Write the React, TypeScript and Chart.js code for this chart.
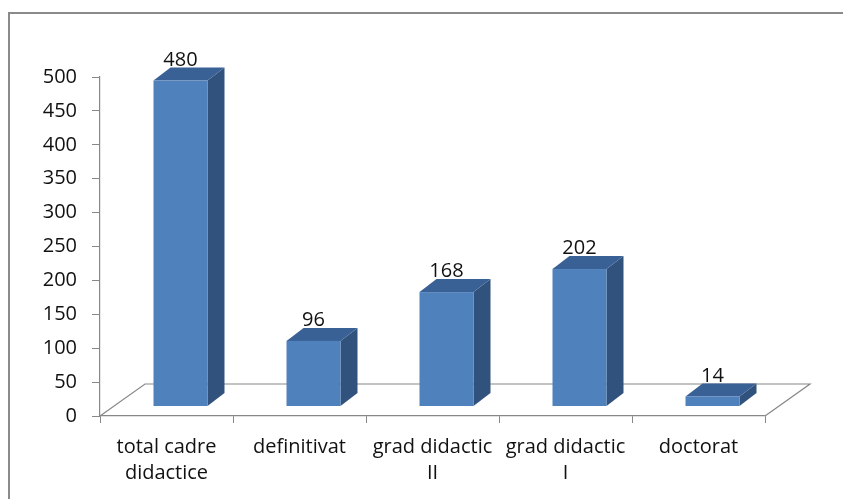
import React, { useEffect, useRef } from 'react';
import { Chart, registerables } from 'chart.js';

Chart.register(...registerables);

const categories: (string | string[])[] = [
  ['total cadre', 'didactice'],
  'definitivat',
  ['grad didactic', 'II'],
  ['grad didactic', 'I'],
  'doctorat',
];
const values: number[] = [480, 96, 168, 202, 14];
const yMin = 0;
const yMax = 500;
const yStep = 50;

const FONT = '"Open Sans", Lato, sans-serif';
const AXIS_GRAY = '#888888';
const FRONT = '#4F81BD';
const SIDE = '#30527D';
const TOP = '#3A6195';

// 3D projection constants (styling)
const FLOOR_DX = 45;
const FLOOR_DY = 32;
const BAR_SHIFT_X = 14;
const BAR_SHIFT_Y = 10;
const BAR_DX = 17;
const BAR_DY = 13;

const threeDPlugin = {
  id: 'threeD',
  beforeDraw(chart: any) {
    const ctx = chart.ctx;
    ctx.save();
    ctx.strokeStyle = '#8a8a8a';
    ctx.lineWidth = 2;
    ctx.strokeRect(9, 13, 1000, 1000);
    ctx.restore();
  },
  beforeDatasetsDraw(chart: any) {
    const ctx = chart.ctx;
    const xs = chart.scales.x;
    const ys = chart.scales.y;
    const y0 = ys.getPixelForValue(0);
    const l = xs.left;
    const r = xs.right;
    ctx.save();
    ctx.strokeStyle = AXIS_GRAY;
    ctx.lineWidth = 1.2;
    ctx.beginPath();
    ctx.moveTo(l, y0);
    ctx.lineTo(l + FLOOR_DX, y0 - FLOOR_DY);
    ctx.lineTo(r + FLOOR_DX, y0 - FLOOR_DY);
    ctx.lineTo(r, y0);
    ctx.stroke();
    ctx.restore();
  },
  afterDatasetsDraw(chart: any) {
    const ctx = chart.ctx;
    const ys = chart.scales.y;
    const meta = chart.getDatasetMeta(0);
    const data = chart.data.datasets[0].data as number[];
    ctx.save();
    meta.data.forEach((el: any, i: number) => {
      const cx = el.x + BAR_SHIFT_X;
      const hw = el.width / 2;
      const x1 = cx - hw;
      const x2 = cx + hw;
      const yb = ys.getPixelForValue(0) - BAR_SHIFT_Y;
      const yt = ys.getPixelForValue(data[i]) - BAR_SHIFT_Y;
      // side face
      ctx.fillStyle = SIDE;
      ctx.beginPath();
      ctx.moveTo(x2, yb);
      ctx.lineTo(x2 + BAR_DX, yb - BAR_DY);
      ctx.lineTo(x2 + BAR_DX, yt - BAR_DY);
      ctx.lineTo(x2, yt);
      ctx.closePath();
      ctx.fill();
      // top face
      ctx.fillStyle = TOP;
      ctx.beginPath();
      ctx.moveTo(x1, yt);
      ctx.lineTo(x1 + BAR_DX, yt - BAR_DY);
      ctx.lineTo(x2 + BAR_DX, yt - BAR_DY);
      ctx.lineTo(x2, yt);
      ctx.closePath();
      ctx.fill();
      // front face
      ctx.fillStyle = FRONT;
      ctx.fillRect(x1, yt, x2 - x1, yb - yt);
      // label
      ctx.fillStyle = '#111';
      ctx.font = `20px ${FONT}`;
      ctx.textAlign = 'center';
      ctx.textBaseline = 'alphabetic';
      ctx.fillText(String(data[i]), cx, yt - BAR_DY - 2);
    });
    ctx.restore();
  },
};

export default function App() {
  const canvasRef = useRef<HTMLCanvasElement | null>(null);

  useEffect(() => {
    const canvas = canvasRef.current;
    if (!canvas) return;
    const chart = new Chart(canvas, {
      type: 'bar',
      data: {
        labels: categories,
        datasets: [
          {
            data: values,
            backgroundColor: 'rgba(0,0,0,0)',
            borderWidth: 0,
            categoryPercentage: 1,
            barPercentage: 0.406,
          },
        ],
      },
      options: {
        responsive: false,
        animation: false,
        events: [],
        layout: { padding: { top: 77, right: 78, left: 0, bottom: 0 } },
        plugins: {
          legend: { display: false },
          tooltip: { enabled: false },
          title: { display: false },
        },
        scales: {
          x: {
            offset: true,
            grid: {
              display: true,
              offset: true,
              drawOnChartArea: false,
              drawTicks: true,
              tickLength: 7,
              color: AXIS_GRAY,
            },
            border: { display: true, color: AXIS_GRAY, width: 1.2 },
            ticks: {
              color: '#111',
              font: { family: FONT, size: 20, lineHeight: 1.3 },
              padding: 11,
              maxRotation: 0,
              autoSkip: false,
            },
            afterFit(scale: any) {
              scale.height = 83;
            },
          },
          y: {
            min: yMin,
            max: yMax,
            grid: {
              display: true,
              drawOnChartArea: false,
              drawTicks: true,
              tickLength: 8,
              color: AXIS_GRAY,
            },
            border: { display: true, color: AXIS_GRAY, width: 1.2 },
            ticks: {
              stepSize: yStep,
              color: '#111',
              font: { family: FONT, size: 20 },
              padding: 15,
            },
            afterFit(scale: any) {
              scale.width = 100;
            },
          },
        },
      },
      plugins: [threeDPlugin],
    });
    return () => chart.destroy();
  }, []);

  return (
    <div style={{ position: 'absolute', left: 0, top: 0, width: 843, height: 499, background: '#fff' }}>
      <canvas ref={canvasRef} width={843} height={499} style={{ display: 'block' }} />
    </div>
  );
}
